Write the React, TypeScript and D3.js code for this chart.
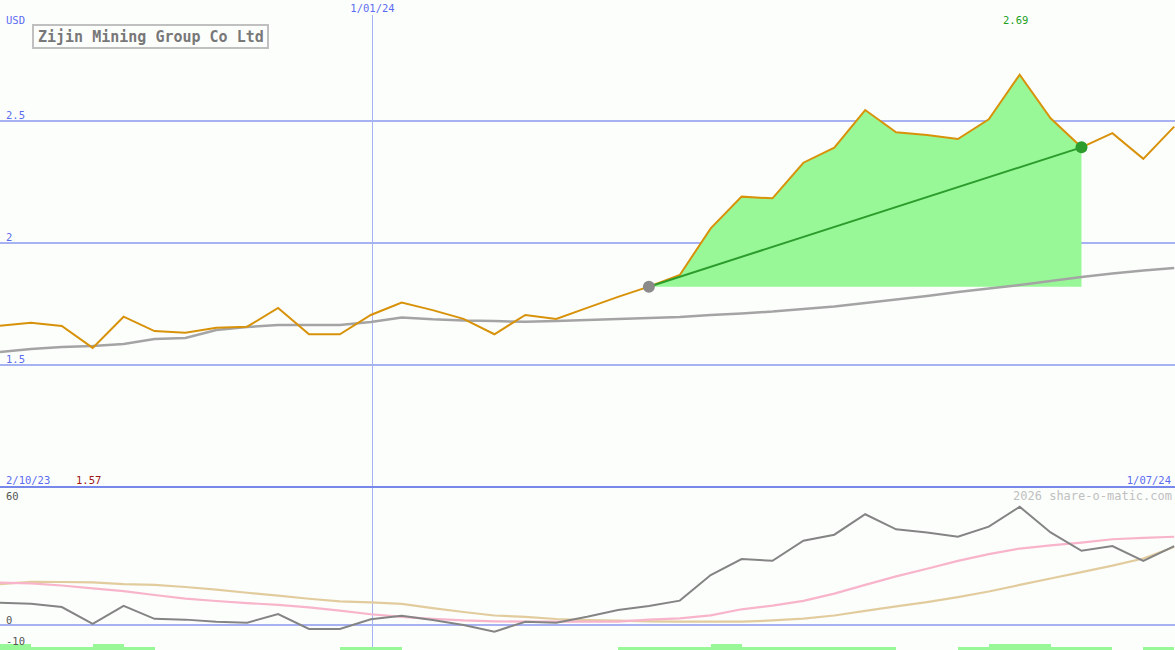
import React from 'react';
import * as d3 from 'd3';

const W = 1175;
const H = 650;

// weekly closing prices, USD
const closes = [
  1.661, 1.673, 1.66, 1.57, 1.698, 1.639, 1.632, 1.653, 1.657, 1.734,
  1.626, 1.626, 1.705, 1.756, 1.725, 1.689, 1.626, 1.705, 1.689, 1.734,
  1.779, 1.821, 1.869, 2.06, 2.19, 2.183, 2.329, 2.391, 2.545, 2.454,
  2.443, 2.426, 2.507, 2.69, 2.511, 2.392, 2.45, 2.345, 2.477,
];

// moving average of the price
const movingAvg = [
  1.553, 1.566, 1.574, 1.578, 1.586, 1.607, 1.611, 1.643, 1.656, 1.664,
  1.664, 1.664, 1.676, 1.695, 1.687, 1.682, 1.68, 1.677, 1.68, 1.684,
  1.689, 1.693, 1.697, 1.705, 1.711, 1.719, 1.73, 1.74, 1.754, 1.768,
  1.783, 1.799, 1.814, 1.828, 1.844, 1.861, 1.875, 1.887, 1.898,
];

// lower panel indicators
const momentum = [
  10.8, 10.3, 8.7, 0.6, 9.3, 3.0, 2.6, 1.6, 1.1, 5.3,
  -1.9, -1.9, 2.8, 4.5, 2.4, 0, -3.2, 1.6, 1.1, 4.0,
  7.3, 9.2, 11.8, 24.2, 31.9, 31.1, 40.8, 43.7, 53.6, 46.3,
  44.8, 42.7, 47.6, 57.2, 44.8, 35.9, 38.2, 31.0, 38.2,
];
const fastSignal = [
  20.5, 20.1, 19.1, 17.7, 16.4, 14.5, 12.8, 11.6, 10.6, 9.7,
  8.5, 7.0, 5.2, 3.9, 3.0, 2.2, 1.8, 1.6, 1.6, 1.6,
  1.6, 2.6, 3.2, 4.7, 7.6, 9.4, 11.7, 15.2, 19.4, 23.5,
  27.2, 31.0, 34.3, 37.0, 38.5, 39.9, 41.5, 42.2, 42.7,
];
const slowSignal = [
  19.8, 20.9, 20.8, 20.6, 19.8, 19.4, 18.4, 17.1, 15.6, 14.2,
  12.7, 11.4, 10.9, 10.2, 8.2, 6.3, 4.6, 3.9, 2.9, 2.4,
  2.1, 1.8, 1.6, 1.6, 1.6, 2.2, 3.1, 4.6, 6.8, 9.0,
  11.1, 13.5, 16.2, 19.4, 22.5, 25.6, 28.7, 32.2, 37.7,
];
// strength strip at the bottom (0 none, 1 weak, 2 strong)
const strength = [
  2, 1, 1, 2, 1, 0, 0, 0, 0, 0,
  0, 1, 1, 0, 0, 0, 0, 0, 0, 0,
  1, 1, 1, 2, 1, 1, 1, 1, 1, 0,
  0, 1, 2, 2, 1, 1, 0, 1, 0,
];

const priceTicks = [1.5, 2, 2.5];
const lowerTicks = [60, 0, -10];
const title = 'Zijin Mining Group Co Ltd';
const startLabel = '2/10/23';
const midLabel = '1/01/24';
const midIndex = 12;
const endLabel = '1/07/24';
const trendStart = 21;
const trendEnd = 35;

const mono = '"DejaVu Sans Mono", monospace';

const App: React.FC = () => {
  const n = closes.length;
  const x = d3.scaleLinear().domain([0, n - 1]).range([0, 1174.2]);
  const y = d3.scaleLinear().domain([1.5, 2.5]).range([365, 121]);
  const yLow = d3.scaleLinear().domain([0, 60]).range([625, 501]);
  const yBar = d3.scaleLinear().domain([0, 2]).range([650, 644]);

  const priceLine = d3.line<number>().x((_, i) => x(i)).y(d => y(d));
  const lowLine = d3.line<number>().x((_, i) => x(i)).y(d => yLow(d));

  // shaded gain area between the trend start and end
  const base = y(closes[trendStart]);
  const seg = d3.range(trendStart, trendEnd + 1);
  const area = d3.area<number>()
    .x(i => x(i))
    .y0(base)
    .y1(i => y(closes[i]));

  const maxIdx = d3.maxIndex(closes);
  const minVal = d3.min(closes) as number;
  const midX = Math.round(x(midIndex)) + 1.5;

  return (
    <svg width={W} height={H} style={{ position: 'absolute', left: 0, top: 0, display: 'block' }}
      fontFamily={mono}>
      <rect width={W} height={H} fill="#fcfefc" />

      {/* grid */}
      {priceTicks.map(t => (
        <g key={t}>
          <line x1={0} x2={W} y1={y(t)} y2={y(t)} stroke="#a6b2f2" strokeWidth={2} shapeRendering="crispEdges" />
          <text x={6} y={y(t) - 2} fontSize={10.5} fill="#5c6cf0">{t}</text>
        </g>
      ))}
      <line x1={midX} x2={midX} y1={15} y2={H} stroke="#a6b2f2" strokeWidth={1} />
      <text x={midX} y={12} fontSize={10.5} fill="#5c6cf0" textAnchor="middle">{midLabel}</text>
      <text x={6} y={24} fontSize={10.5} fill="#5c6cf0">USD</text>

      <rect x={33} y={25} width={235} height={23} fill="none" stroke="#c0c0c0" strokeWidth={2} />
      <text x={38} y={42} fontSize={15} fill="#787878" fontWeight="bold">{title}</text>

      {/* gain area */}
      <path d={area(seg) as string} fill="#98f898" />

      <path d={priceLine(movingAvg) as string} fill="none" stroke="#a4a4a4" strokeWidth={2.5} />
      <path d={priceLine(closes) as string} fill="none" stroke="#d8920a" strokeWidth={2} />

      <line x1={x(trendStart)} y1={y(closes[trendStart])} x2={x(trendEnd)} y2={y(closes[trendEnd])}
        stroke="#2c9c2c" strokeWidth={2} />
      <circle cx={x(trendStart)} cy={y(closes[trendStart])} r={6} fill="#8a8a8a" />
      <circle cx={x(trendEnd)} cy={y(closes[trendEnd])} r={6} fill="#2c9c2c" />

      <text x={x(maxIdx) - 4} y={24} fontSize={10.5} fill="#22a022" textAnchor="middle">{closes[maxIdx].toFixed(2)}</text>

      {/* panel divider and date labels */}
      <line x1={0} x2={W} y1={487} y2={487} stroke="#7888ea" strokeWidth={2} shapeRendering="crispEdges" />
      <text x={6} y={484} fontSize={10.5} fill="#5c6cf0">{startLabel}</text>
      <text x={76} y={484} fontSize={10.5} fill="#a01818">{minVal.toFixed(2)}</text>
      <text x={W - 4} y={484} fontSize={10.5} fill="#5c6cf0" textAnchor="end">{endLabel}</text>
      <text x={W - 3} y={500} fontSize={12} fill="#c0c0c0" textAnchor="end">2026 share-o-matic.com</text>

      {/* lower panel */}
      <line x1={0} x2={W} y1={yLow(0)} y2={yLow(0)} stroke="#a6b2f2" strokeWidth={2} shapeRendering="crispEdges" />
      <path d={lowLine(slowSignal) as string} fill="none" stroke="#e2cc9e" strokeWidth={2.2} />
      <path d={lowLine(fastSignal) as string} fill="none" stroke="#f8b4ca" strokeWidth={2.2} />
      <path d={lowLine(momentum) as string} fill="none" stroke="#848484" strokeWidth={2} />

      {strength.map((s, i) => s > 0 && (
        <rect key={i} x={x(i)} width={x(i + 1) - x(i)} y={yBar(s)} height={H - yBar(s)}
          fill="#98f898" shapeRendering="crispEdges" />
      ))}

      {lowerTicks.map(t => (
        <text key={t} x={6} y={yLow(t) - 1} fontSize={10.5} fill="#555">{t}</text>
      ))}
    </svg>
  );
};

export default App;
